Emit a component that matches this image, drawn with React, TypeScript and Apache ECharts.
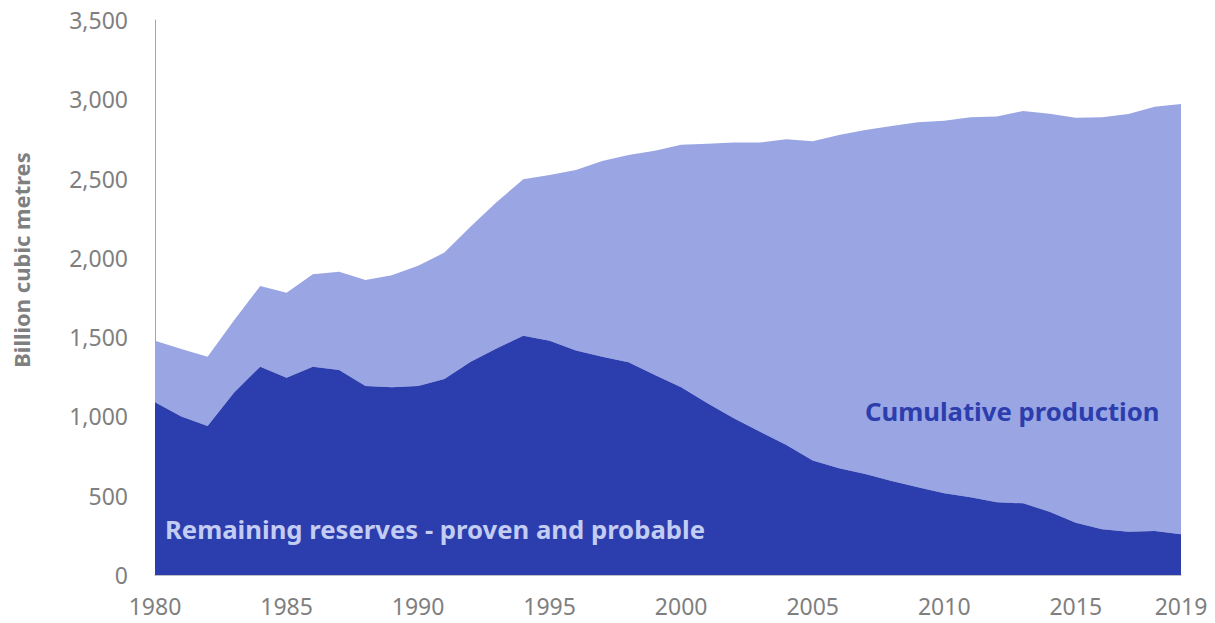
import React, { useEffect, useRef } from "react";
import * as echarts from "echarts";

const years: string[] = [
  "1980","1981","1982","1983","1984","1985","1986","1987","1988","1989",
  "1990","1991","1992","1993","1994","1995","1996","1997","1998","1999",
  "2000","2001","2002","2003","2004","2005","2006","2007","2008","2009",
  "2010","2011","2012","2013","2014","2015","2016","2017","2018","2019",
];

// Remaining reserves - proven and probable (billion cubic metres)
const reserves: number[] = [
  1090, 1000, 940, 1150, 1314, 1244, 1314, 1293, 1192, 1184,
  1192, 1236, 1345, 1430, 1509, 1478, 1415, 1377, 1341, 1261,
  1184, 1083, 988, 904, 820, 722, 673, 637, 593, 553,
  515, 490, 458, 452, 399, 330, 288, 273, 277, 257,
];

// Total resource (reserves + cumulative production)
const total: number[] = [
  1478, 1425, 1377, 1605, 1822, 1780, 1896, 1913, 1860, 1890,
  1950, 2033, 2197, 2354, 2495, 2522, 2554, 2611, 2649, 2676,
  2714, 2720, 2727, 2727, 2748, 2735, 2775, 2806, 2832, 2855,
  2865, 2886, 2892, 2926, 2909, 2884, 2886, 2907, 2953, 2970,
];

const cumulative: number[] = total.map((t, i) => t - reserves[i]);

const DARK = "#2c3ead";
const LIGHT = "#9aa5e3";
const GREY = "#7f7f7f";

export default function App() {
  const ref = useRef<HTMLDivElement>(null);
  useEffect(() => {
    if (!ref.current) return;
    const chart = echarts.init(ref.current, undefined, { renderer: "svg" });
    const last = years.length - 1;
    chart.setOption({
      animation: false,
      grid: { left: 155, right: 34, top: 20, bottom: 48 },
      xAxis: {
        type: "category",
        data: years,
        boundaryGap: false,
        axisLine: { lineStyle: { color: "#bfbfbf", width: 1 } },
        axisTick: { show: false },
        axisLabel: {
          interval: (i: number) => i % 5 === 0 || i === last,
          color: GREY,
          fontFamily: "Noto Sans",
          fontSize: 23,
          margin: 19,
        },
      },
      yAxis: {
        type: "value",
        min: 0,
        max: 3500,
        interval: 500,
        axisLine: { show: true, lineStyle: { color: "#a6a6a6", width: 1 } },
        axisTick: { show: false },
        splitLine: { show: false },
        axisLabel: {
          color: GREY,
          fontFamily: "Noto Sans",
          fontSize: 23,
          margin: 27,
          formatter: (v: number) => v.toLocaleString("en-US"),
        },
      },
      series: [
        {
          name: "Remaining reserves - proven and probable",
          type: "line",
          stack: "gas",
          data: reserves,
          symbol: "none",
          lineStyle: { width: 0 },
          areaStyle: { color: DARK, opacity: 1 },
          z: 2,
        },
        {
          name: "Cumulative production",
          type: "line",
          stack: "gas",
          data: cumulative,
          symbol: "none",
          lineStyle: { width: 0 },
          areaStyle: { color: LIGHT, opacity: 1 },
          z: 1,
        },
      ],
      graphic: [
        {
          type: "text",
          x: 21,
          y: 260,
          rotation: Math.PI / 2,
          z: 10,
          style: {
            text: "Billion cubic metres",
            fill: GREY,
            font: "bold 22px 'Noto Sans'",
            align: "center",
            verticalAlign: "middle",
          },
        },
        {
          type: "text",
          x: 165,
          y: 529,
          z: 10,
          style: {
            text: "Remaining reserves - proven and probable",
            fill: "#c3cdf3",
            font: "bold 25.7px 'Noto Sans'",
            align: "left",
            verticalAlign: "middle",
          },
        },
        {
          type: "text",
          x: 865,
          y: 411,
          z: 10,
          style: {
            text: "Cumulative production",
            fill: DARK,
            font: "bold 25.7px 'Noto Sans'",
            align: "left",
            verticalAlign: "middle",
          },
        },
      ],
    });
    return () => chart.dispose();
  }, []);
  return (
    <div
      ref={ref}
      style={{ position: "absolute", left: 0, top: 0, width: 1215, height: 623, background: "#fff" }}
    />
  );
}
